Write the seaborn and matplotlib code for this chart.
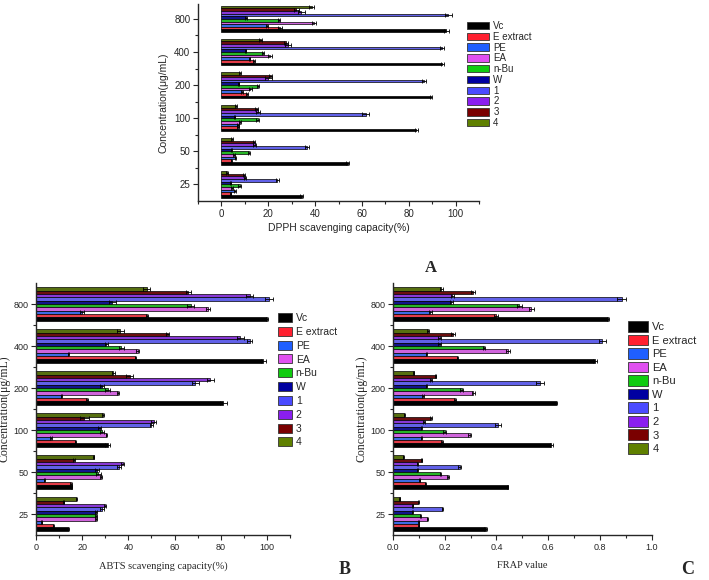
import pandas as pd
import matplotlib
matplotlib.use("Agg")
import matplotlib.pyplot as plt
import seaborn as sns
from matplotlib.patches import Patch
from matplotlib import font_manager

# columns: 25, 50, 100, 200, 400, 800 ug/mL
concentrations = ["25", "50", "100", "200", "400", "800"]
samples = ["Vc", "E extract", "PE", "EA", "n-Bu", "W", "1", "2", "3", "4"]
colors = ["#000000", "#ff2030", "#1f5fff", "#e050f0", "#10cc10",
          "#0000a0", "#4a4aff", "#8a1ef0", "#7a0000", "#5f8000"]

dpph_vals = [
    [34.2, 54.0, 83.3, 89.4, 94.4, 96.1],
    [4.0, 4.3, 7.0, 11.1, 13.8, 25.0],
    [5.7, 6.0, 7.1, 8.8, 12.0, 19.5],
    [4.6, 5.5, 7.8, 12.4, 20.6, 39.5],
    [7.8, 11.7, 15.5, 15.6, 17.8, 24.5],
    [4.0, 4.3, 5.7, 7.4, 10.3, 10.5],
    [23.8, 36.6, 61.7, 86.6, 94.2, 96.8],
    [10.0, 14.2, 15.5, 20.0, 28.5, 34.0],
    [9.7, 13.8, 15.0, 21.0, 27.5, 32.0],
    [2.4, 4.6, 6.1, 7.8, 16.8, 38.5],
]
dpph_err = [
    [0.8, 0.6, 0.8, 0.5, 0.5, 1.0],
    [0.3, 0.3, 0.4, 0.4, 0.5, 0.8],
    [0.4, 0.3, 0.4, 0.5, 0.4, 0.5],
    [0.4, 0.4, 0.5, 0.5, 0.8, 0.8],
    [0.6, 0.5, 0.6, 0.6, 0.5, 0.5],
    [0.3, 0.3, 0.3, 0.3, 0.4, 0.5],
    [0.6, 0.8, 1.5, 0.8, 1.0, 1.5],
    [0.5, 0.6, 0.8, 1.5, 1.2, 1.5],
    [0.5, 0.5, 0.6, 0.8, 0.8, 1.2],
    [0.3, 0.3, 0.4, 0.4, 0.6, 1.0],
]

abts_vals = [
    [14.0, 15.5, 31.0, 81.0, 98.5, 100.0],
    [7.5, 15.0, 17.0, 22.0, 43.0, 48.0],
    [2.5, 3.5, 6.5, 11.0, 14.0, 20.0],
    [26.0, 28.0, 30.5, 35.5, 44.0, 74.5],
    [26.0, 27.0, 28.5, 31.0, 37.0, 67.0],
    [26.0, 26.5, 27.5, 28.5, 30.5, 33.0],
    [28.5, 36.0, 50.0, 69.0, 92.5, 101.0],
    [30.0, 37.5, 51.0, 75.5, 88.5, 92.5],
    [12.0, 16.5, 21.0, 40.5, 57.0, 66.0],
    [17.5, 25.0, 29.0, 33.5, 36.5, 48.0],
]
abts_err = [
    [0.3, 0.3, 1.0, 1.5, 1.0, 0.3],
    [0.2, 0.4, 0.3, 0.4, 0.3, 0.5],
    [0.3, 0.2, 0.3, 0.3, 0.3, 1.0],
    [0.6, 0.5, 0.3, 0.3, 0.8, 0.8],
    [0.5, 1.0, 1.0, 1.0, 1.0, 1.5],
    [0.5, 0.8, 0.6, 0.8, 0.8, 1.5],
    [0.8, 1.0, 0.8, 1.5, 1.0, 1.8],
    [0.5, 0.5, 1.0, 1.5, 1.5, 1.5],
    [0.3, 0.3, 2.0, 1.5, 0.5, 1.0],
    [0.3, 0.3, 0.3, 0.6, 1.5, 1.5],
]

frap_vals = [
    [0.359, 0.443, 0.613, 0.632, 0.780, 0.832],
    [0.100, 0.125, 0.190, 0.239, 0.249, 0.400],
    [0.100, 0.103, 0.110, 0.116, 0.129, 0.145],
    [0.133, 0.213, 0.297, 0.310, 0.445, 0.535],
    [0.106, 0.183, 0.200, 0.265, 0.352, 0.488],
    [0.075, 0.093, 0.110, 0.129, 0.180, 0.226],
    [0.191, 0.258, 0.406, 0.568, 0.810, 0.884],
    [0.077, 0.093, 0.120, 0.148, 0.180, 0.230],
    [0.097, 0.112, 0.148, 0.165, 0.232, 0.310],
    [0.026, 0.039, 0.043, 0.080, 0.135, 0.187],
]
frap_err = [
    [0.006, 0.002, 0.005, 0.002, 0.008, 0.003],
    [0.002, 0.003, 0.003, 0.003, 0.003, 0.008],
    [0.002, 0.002, 0.002, 0.004, 0.003, 0.004],
    [0.002, 0.005, 0.006, 0.006, 0.008, 0.010],
    [0.002, 0.003, 0.006, 0.005, 0.005, 0.010],
    [0.002, 0.002, 0.002, 0.003, 0.004, 0.005],
    [0.002, 0.006, 0.010, 0.015, 0.015, 0.018],
    [0.002, 0.002, 0.003, 0.003, 0.005, 0.005],
    [0.002, 0.002, 0.003, 0.003, 0.008, 0.008],
    [0.002, 0.002, 0.002, 0.002, 0.003, 0.005],
]

sns.set_style("ticks")
installed = {f.name for f in font_manager.fontManager.ttflist}
narrow = "Liberation Sans Narrow" if "Liberation Sans Narrow" in installed else "Liberation Sans"
sans = "Liberation Sans"
serif = "Liberation Serif"


def make_df(vals, errs):
    rows = []
    for i, s in enumerate(samples):
        for j, c in enumerate(concentrations):
            rows.append({"sample": s, "conc": c, "value": vals[i][j], "err": errs[i][j]})
    return pd.DataFrame(rows)


def draw_panel(ax, vals, errs, xlim, major, minor, ylim, tickfont, tickfs):
    df = make_df(vals, errs)
    order = concentrations[::-1]
    hue_order = samples[::-1]
    pal = dict(zip(samples, colors))
    sns.barplot(data=df, y="conc", x="value", hue="sample", order=order,
                hue_order=hue_order, palette=pal, orient="h", errorbar=None,
                edgecolor="black", linewidth=0.5, width=0.8, legend=False, ax=ax)
    for cont, s in zip(ax.containers, hue_order):
        sub = df[df["sample"] == s].set_index("conc")
        for bar, c in zip(cont, order):
            ax.errorbar(bar.get_width(), bar.get_y() + bar.get_height() / 2,
                        xerr=sub.loc[c, "err"], color="black", lw=0.6,
                        capsize=1.2, capthick=0.6)
    ax.set_xlim(*xlim)
    ax.set_ylim(*ylim)
    ax.set_xticks(major)
    ax.set_xticks(minor, minor=True)
    ax.set_yticks([0.5, 1.5, 2.5, 3.5, 4.5], minor=True)
    ax.tick_params(which="major", length=3.5, width=0.8, direction="out", pad=2)
    ax.tick_params(which="minor", length=2, width=0.8, direction="out")
    for lab in ax.get_xticklabels() + ax.get_yticklabels():
        lab.set_family(tickfont)
        lab.set_fontsize(tickfs)
    sns.despine(ax=ax)
    for sp in ["left", "bottom"]:
        ax.spines[sp].set_linewidth(1.0)
    ax.set_xlabel("")
    ax.set_ylabel("")


def add_legend(fig, x, y, fs, font, hlen, hh, spacing):
    handles = [Patch(facecolor=c, edgecolor="#333333", linewidth=0.6) for c in colors]
    fig.legend(handles, samples, loc="upper left", bbox_to_anchor=(x, y),
               bbox_transform=fig.transFigure, frameon=False, borderpad=0,
               borderaxespad=0, handlelength=hlen, handleheight=hh,
               labelspacing=spacing, handletextpad=0.4,
               prop={"family": font, "size": fs})


W, H = 709, 580
fig = plt.figure(figsize=(W / 100, H / 100), dpi=100)

# panel A
axA = fig.add_axes([198 / W, 1 - 201 / H, 281 / W, 197 / H])
draw_panel(axA, dpph_vals, dpph_err, (-10, 110), [0, 20, 40, 60, 80, 100],
           [-10, 10, 30, 50, 70, 90, 110], (5.5, -0.45), sans, 7)
axA.set_xlabel("DPPH scavenging capacity(%)", family=sans, fontsize=7.5, labelpad=3)
axA.set_ylabel("Concentration(μg/mL)", family=sans, fontsize=7.5, labelpad=4)
add_legend(fig, 467 / W, 1 - 21 / H, 7, sans, 2.3, 0.8, 0.08)
fig.text(431 / W, 1 - 268 / H, "A", family=serif, weight="bold", fontsize=12,
         ha="center", va="center")

# panel B
axB = fig.add_axes([36 / W, 1 - 535 / H, 254 / W, 252 / H])
draw_panel(axB, abts_vals, abts_err, (0, 110), [0, 20, 40, 60, 80, 100],
           [10, 30, 50, 70, 90, 110], (5.5, -0.5), narrow, 6.5)
axB.set_xlabel("ABTS scavenging capacity(%)", family=serif, fontsize=7.5, labelpad=7)
axB.set_ylabel("Concentration(μg/mL)", family=serif, fontsize=8.5, labelpad=2)
axB.yaxis.set_label_coords(-25 / 254, 0.5)
add_legend(fig, 278 / W, 1 - 313 / H, 7.5, narrow, 1.3, 0.95, 0.36)
fig.text(345 / W, 1 - 570 / H, "B", family=serif, weight="bold", fontsize=13,
         ha="center", va="center")

# panel C
axC = fig.add_axes([393 / W, 1 - 535 / H, 258.5 / W, 252 / H])
draw_panel(axC, frap_vals, frap_err, (0, 1.0), [0.0, 0.2, 0.4, 0.6, 0.8, 1.0],
           [0.1, 0.3, 0.5, 0.7, 0.9], (5.5, -0.5), narrow, 6.5)
axC.set_xticklabels(["0.0", "0.2", "0.4", "0.6", "0.8", "1.0"], family=narrow, fontsize=6.5)
axC.set_xlabel("FRAP value", family=serif, fontsize=7.5, labelpad=7)
axC.set_ylabel("Concentration(μg/mL)", family=serif, fontsize=8.5, labelpad=2)
add_legend(fig, 628 / W, 1 - 321 / H, 8, narrow, 1.8, 1.1, 0.22)
fig.text(688 / W, 1 - 570 / H, "C", family=serif, weight="bold", fontsize=13,
         ha="center", va="center")

fig.savefig("out.png", dpi=100)
